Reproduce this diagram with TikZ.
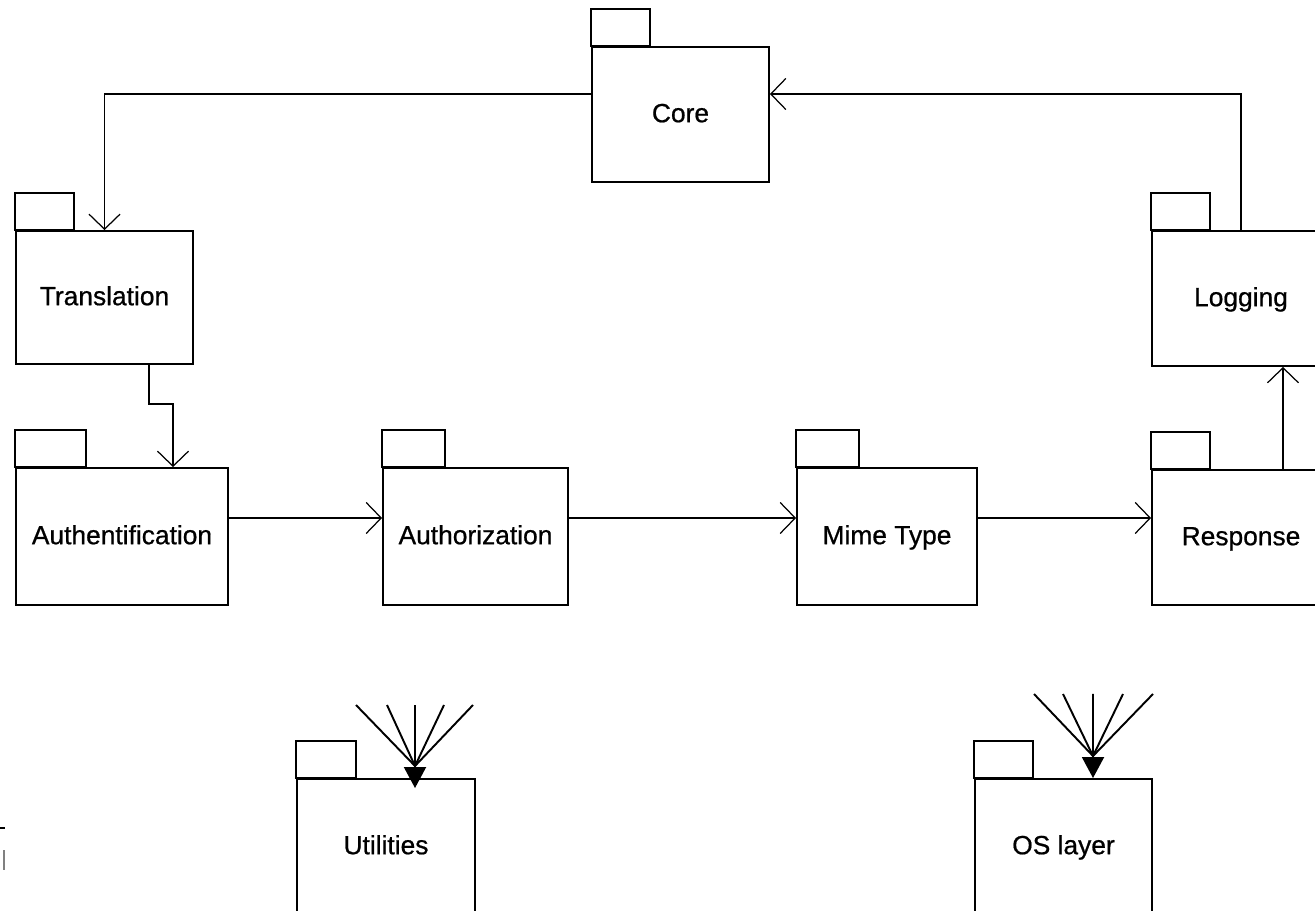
\documentclass[tikz,border=0pt]{standalone}
\usepackage{fontspec}
\setmainfont{Liberation Sans}
\newfontfamily\pkgfont{Liberation Sans}[FakeBold=0.7]
\usetikzlibrary{arrows.meta, calc}

\tikzset{
  % Package body
  pkg/.style={
    rectangle, draw=black, line width=1.1pt,
    minimum height=2.7cm, inner sep=0pt,
    text height=0.88em, text depth=0em,
    font=\pkgfont\fontsize{15}{18}\selectfont
  },
  % Package tab
  pkgtab/.style={draw=black, line width=1.1pt},
  % Dependency arrow (open head)
  dep/.style={
    -{Straight Barb[length=0.3cm,width=0.62cm]},
    line width=0.7pt
  },
  % Incoming fan line
  fan/.style={line width=1.1pt},
  % Incoming arrow (filled head)
  imp/.style={
    -{Triangle[length=0.42cm,width=0.44cm]},
    line width=1.1pt
  }
}

\begin{document}
\begin{tikzpicture}[x=0.02cm, y=-0.02cm]
  \clip (0,0) rectangle (1315,911);

  \node[pkg, minimum width=3.54cm, minimum height=2.7cm]  (core)    at (680.5,114.5) {Core};
  \node[pkg, minimum width=3.54cm, minimum height=2.66cm] (trans)   at (104.5,297.5) {Translation};
  \node[pkg, minimum width=4.24cm, minimum height=2.74cm] (authn)   at (122,536.5)   {Authentification};
  \node[pkg, minimum width=3.7cm,  minimum height=2.74cm] (authz)   at (475.5,536.5) {Authorization};
  \node[pkg, minimum width=3.6cm,  minimum height=2.74cm] (mime)    at (887,536.5)   {Mime Type};
  \node[pkg, minimum width=3.56cm, minimum height=2.7cm]  (resp)    at (1241,537.5)  {Response};
  \node[pkg, minimum width=3.56cm, minimum height=2.7cm]  (logging) at (1241,298.5)  {Logging};
  \node[pkg, minimum width=3.56cm, minimum height=2.7cm]  (util)    at (386,846.5)   {Utilities};
  \node[pkg, minimum width=3.54cm, minimum height=2.7cm]  (os)      at (1063.5,846.5){OS layer};

  % tabs
  \foreach \n/\w in {core/59, trans/59, authn/71, authz/63, mime/63,
                     resp/59, logging/59, util/60, os/59}
    \draw[pkgtab] (\n.north west) rectangle ++(\w,-37);

  % dependencies
  \draw[dep] ($(core.west)+(0,-20.5)$) -| (trans.north);
  \draw[dep] ($(trans.south)+(44.5,0)$) -- ++(0,39) -| ($(authn.north)+(51,0)$);
  \draw[dep] ($(authn.east)+(0,-18.5)$) -- ($(authz.west)+(0,-18.5)$);
  \draw[dep] ($(authz.east)+(0,-18.5)$) -- ($(mime.west)+(0,-18.5)$);
  \draw[dep] ($(mime.east)+(0,-18.5)$)  -- ($(resp.west)+(0,-19.5)$);
  \draw[dep] ($(resp.north)+(42,0)$) -- ($(logging.south)+(42,0)$);
  \draw[dep] (logging.north) |- ($(core.east)+(0,-20.5)$);

  % incoming fans
  \foreach \i/\x in {1/356, 2/387, 3/415, 4/444, 5/473}
    \coordinate (u\i) at (\x,705);
  \foreach \i/\x in {1/1034, 2/1063, 3/1093, 4/1123, 5/1153}
    \coordinate (o\i) at (\x,694);
  \coordinate (uhub) at (415,766);
  \coordinate (ohub) at (1093,756);
  \foreach \i in {1,2,4,5} {
    \draw[fan] (u\i) -- (uhub);
    \draw[fan] (o\i) -- (ohub);
  }
  \draw[imp] (u3) -- ($(util.north)+(29,10)$);
  \draw[imp] (o3) -- ($(os.north)+(29.5,0)$);

  % edge fragments
  \draw[line width=1.1pt] (0,828) -- (5,828);
  \draw[gray, line width=0.7pt] (4,850) -- (4,870);
\end{tikzpicture}
\end{document}
